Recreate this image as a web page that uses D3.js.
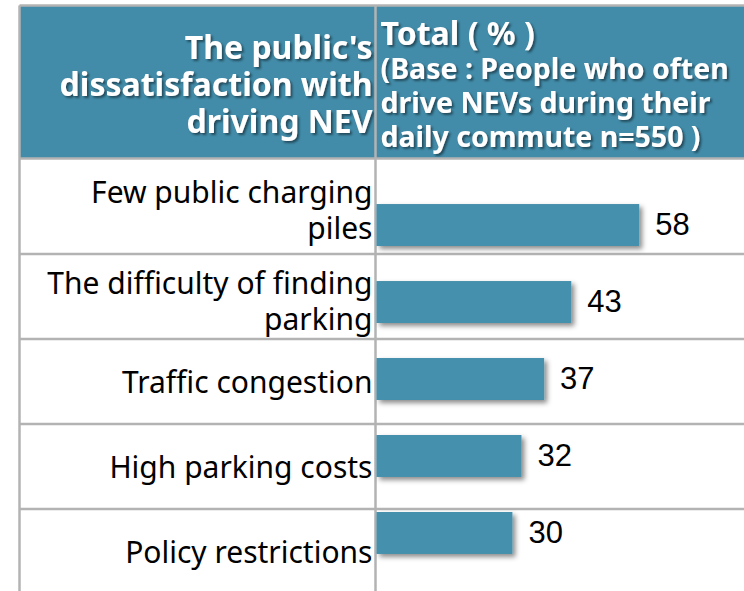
<!DOCTYPE html>
<html>
<head>
<meta charset="utf-8">
<script src="https://cdn.jsdelivr.net/npm/d3@7"></script>
<style>
  body { margin: 0; background: #fff; }
  svg { display: block; }
</style>
</head>
<body>
<div id="chart"></div>
<script>
const categories = [
  'Few public charging piles',
  'The difficulty of finding parking',
  'Traffic congestion',
  'High parking costs',
  'Policy restrictions'
];
const categoryLines = [
  ['Few public charging', 'piles'],
  ['The difficulty of finding', 'parking'],
  ['Traffic congestion'],
  ['High parking costs'],
  ['Policy restrictions']
];
const totals = [58, 43, 37, 32, 30];
const headerLeft = ["The public's", 'dissatisfaction with', 'driving NEV'];
const headerRight = ['Total ( % )', '(Base : People who often', 'drive NEVs during their', 'daily commute n=550 )'];

const width = 744;
const height = 591;
const tableLeft = 19.5;
const divider = 375.5;
const tableTop = 5.5;
const headerBottom = 158.5;
const rowTops = [158.5, 254, 339, 424, 509, 594];
const blue = '#438ca9';
const barBlue = '#4590ad';
const gridColor = '#b3b3b3';
const labelFont = "'Noto Sans', 'Open Sans', sans-serif";

const svg = d3.select('#chart')
  .append('svg')
  .attr('width', width)
  .attr('height', height);

const defs = svg.append('defs');
defs.append('filter')
  .attr('id', 'textShadow')
  .attr('x', '-10%').attr('y', '-20%').attr('width', '130%').attr('height', '160%')
  .append('feDropShadow')
  .attr('dx', 2).attr('dy', 2).attr('stdDeviation', 1)
  .attr('flood-color', '#1a3a4a').attr('flood-opacity', 0.8);
defs.append('filter')
  .attr('id', 'barShadow')
  .attr('x', '-10%').attr('y', '-30%').attr('width', '130%').attr('height', '180%')
  .append('feDropShadow')
  .attr('dx', 3).attr('dy', 3).attr('stdDeviation', 2.5)
  .attr('flood-color', '#000').attr('flood-opacity', 0.45);

// header background
svg.append('rect')
  .attr('x', tableLeft)
  .attr('y', tableTop)
  .attr('width', width - tableLeft)
  .attr('height', headerBottom - tableTop)
  .attr('fill', blue);

// header texts, one text per line
svg.selectAll('.head-left')
  .data(headerLeft)
  .enter()
  .append('text')
  .attr('class', 'head-left')
  .attr('x', divider - 3)
  .attr('y', (d, i) => 59 + i * 37)
  .attr('text-anchor', 'end')
  .attr('font-family', labelFont)
  .attr('font-weight', 'bold')
  .attr('font-size', '32px')
  .attr('fill', '#fff')
  .attr('filter', 'url(#textShadow)')
  .text(d => d);

svg.selectAll('.head-right')
  .data(headerRight)
  .enter()
  .append('text')
  .attr('class', 'head-right')
  .attr('x', divider + 5)
  .attr('y', (d, i) => 45 + i * 34)
  .attr('font-family', labelFont)
  .attr('font-weight', 'bold')
  .attr('font-size', (d, i) => i === 0 ? '32px' : '28.5px')
  .attr('fill', '#fff')
  .attr('filter', 'url(#textShadow)')
  .text(d => d);

// table grid
const grid = svg.append('g')
  .attr('stroke', gridColor)
  .attr('stroke-width', 2.5);
grid.append('line')
  .attr('x1', tableLeft).attr('x2', width)
  .attr('y1', tableTop).attr('y2', tableTop);
grid.selectAll('.row-line')
  .data(rowTops.slice(0, 5))
  .enter()
  .append('line')
  .attr('class', 'row-line')
  .attr('x1', tableLeft).attr('x2', width)
  .attr('y1', d => d).attr('y2', d => d);
grid.append('line')
  .attr('x1', tableLeft).attr('x2', tableLeft)
  .attr('y1', tableTop).attr('y2', height);
grid.append('line')
  .attr('x1', divider).attr('x2', divider)
  .attr('y1', tableTop).attr('y2', height);

// category labels
categoryLines.forEach((lines, i) => {
  const mid = (rowTops[i] + rowTops[i + 1]) / 2;
  const first = mid + 11 - (lines.length - 1) * 18 + (lines.length > 1 ? 4 : 0);
  svg.selectAll('.label-' + i)
    .data(lines)
    .enter()
    .append('text')
    .attr('class', 'label-' + i)
    .attr('x', divider - 3)
    .attr('y', (d, j) => first + j * 36)
    .attr('text-anchor', 'end')
    .attr('font-family', labelFont)
    .attr('font-size', '30px')
    .attr('fill', '#000')
    .text(d => d);
});

// bars
const xScale = d3.scaleLinear()
  .domain([0, 100])
  .range([divider + 1, divider + 1 + 453]);

const yScale = d3.scaleBand()
  .domain(categories)
  .range([169, 589])
  .padding(0.455);

svg.selectAll('.bar')
  .data(categories)
  .enter()
  .append('rect')
  .attr('class', 'bar')
  .attr('x', xScale(0))
  .attr('y', d => yScale(d))
  .attr('width', (d, i) => xScale(totals[i]) - xScale(0))
  .attr('height', yScale.bandwidth())
  .attr('fill', barBlue)
  .attr('filter', 'url(#barShadow)');

svg.selectAll('.value')
  .data(categories)
  .enter()
  .append('text')
  .attr('class', 'value')
  .attr('x', (d, i) => xScale(totals[i]) + 16)
  .attr('y', d => yScale(d) + yScale.bandwidth() / 2 + 10)
  .attr('font-family', "'Liberation Sans', Arial, sans-serif")
  .attr('font-size', '31px')
  .attr('fill', '#000')
  .text((d, i) => totals[i]);
</script>
</body>
</html>
